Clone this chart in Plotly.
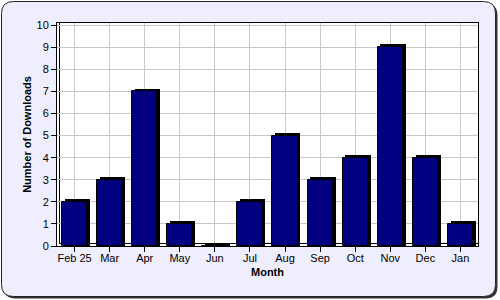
import plotly.graph_objects as go

months = ["Feb 25", "Mar", "Apr", "May", "Jun", "Jul", "Aug", "Sep", "Oct", "Nov", "Dec", "Jan"]
downloads = [2, 3, 7, 1, 0, 2, 5, 3, 4, 9, 4, 1]

W, H = 500, 300
L, R, T, B = 57, 22, 23, 54
pw, ph = W - L - R, H - T - B

def px(x):
    return (x - L) / pw

def py(y):
    return (H - B - y) / ph

def rounded(x0, y0, x1, y1, r):
    return (f"M {px(x0+r)},{py(y0)} L {px(x1-r)},{py(y0)} Q {px(x1)},{py(y0)} {px(x1)},{py(y0+r)} "
            f"L {px(x1)},{py(y1-r)} Q {px(x1)},{py(y1)} {px(x1-r)},{py(y1)} "
            f"L {px(x0+r)},{py(y1)} Q {px(x0)},{py(y1)} {px(x0)},{py(y1-r)} "
            f"L {px(x0)},{py(y0+r)} Q {px(x0)},{py(y0)} {px(x0+r)},{py(y0)} Z")

bw = 0.72
dx = 0.08
dy = 0.13

fig = go.Figure()
fig.add_trace(go.Bar(x=months, y=[v + dy for v in downloads], width=bw, offset=-bw / 2 + dx,
                     marker=dict(color="#000000", line=dict(width=0)), hoverinfo="skip"))
fig.add_trace(go.Bar(x=months, y=downloads, width=bw, offset=-bw / 2,
                     marker=dict(color="#000080", line=dict(color="#000000", width=1))))

shapes = [
    dict(type="path", xref="paper", yref="paper", path=rounded(3.5, 3.5, 497.5, 298.5, 12),
         fillcolor="#333333", line=dict(width=0), layer="below"),
    dict(type="path", xref="paper", yref="paper", path=rounded(1.5, 1.5, 495.5, 296.5, 12),
         fillcolor="#EEEEFF", line=dict(color="#222222", width=1), layer="below"),
    dict(type="rect", xref="paper", yref="paper", x0=0, x1=1, y0=0, y1=1,
         fillcolor="#FFFFFF", line=dict(width=0), layer="below"),
    dict(type="line", xref="paper", yref="paper", x0=px(59.5), x1=px(59.5), y0=py(243.5), y1=1,
         line=dict(color="#000000", width=1), layer="below"),
    dict(type="line", xref="paper", yref="paper", x0=px(59.5), x1=1, y0=py(243.5), y1=py(243.5),
         line=dict(color="#000000", width=1), layer="below"),
]

font = "Liberation Sans, Arial, sans-serif"
fig.update_layout(
    width=W, height=H, margin=dict(l=L, r=R, t=T, b=B),
    paper_bgcolor="#FFFFFF", plot_bgcolor="#FFFFFF",
    barmode="overlay", showlegend=False, bargap=0,
    font=dict(family=font, size=11, color="#000000"),
    shapes=shapes,
    xaxis=dict(type="category", showgrid=True, gridcolor="#C8C8C8", gridwidth=1,
               showline=True, linecolor="#000000", linewidth=1, mirror=True,
               ticks="outside", ticklen=5, tickcolor="#000000", ticklabelstandoff=-3,
               title=dict(text="<b>Month</b>", font=dict(size=11), standoff=5)),
    yaxis=dict(range=[0, 10.1], dtick=1, showgrid=True, gridcolor="#C8C8C8", gridwidth=1,
               showline=True, linecolor="#000000", linewidth=1, mirror=True,
               ticks="outside", ticklen=5, tickcolor="#000000", zeroline=False,
               title=dict(text="<b>Number of Downloads</b>", font=dict(size=11), standoff=2)),
)
fig.write_html("out.html")
